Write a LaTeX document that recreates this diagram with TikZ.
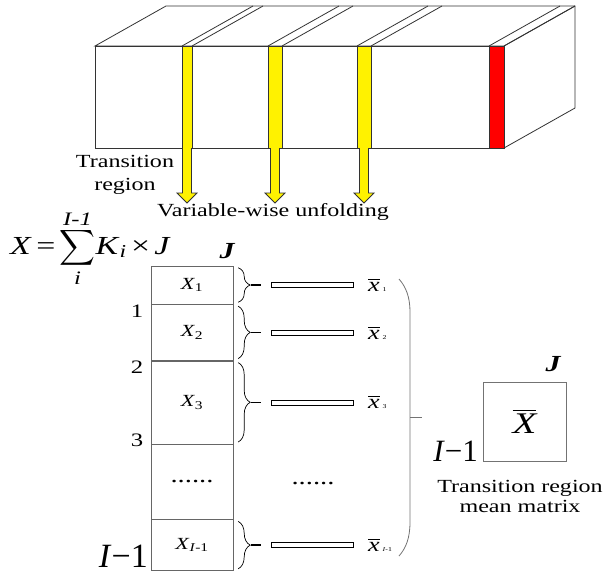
\documentclass[tikz,border=0pt]{standalone}
\usepackage{amsmath}
\usepackage{fontspec}
\setmainfont[FakeStretch=1.3]{Liberation Serif}
\newfontfamily\plainserif{Liberation Serif}
\usetikzlibrary{positioning,decorations.pathreplacing}

\tikzset{
  slab/.style={draw=black!80, line width=0.8pt},
  lbl/.style={font=\fontsize{18.5}{23}\selectfont, align=center, inner sep=0pt},
  cell/.style={draw=black!60, minimum width=82pt, inner sep=0pt, font=\fontsize{17}{18}\selectfont},
  meanbar/.style={draw, fill=white, minimum width=82pt, minimum height=5pt, inner sep=0pt, line width=0.6pt},
  brc/.style={decorate, decoration={brace, amplitude=12pt}, line width=0.7pt},
  stub/.style={line width=1.6pt, shorten >=10pt},
  xlbl/.style={font=\fontsize{20}{20}\selectfont, inner sep=0pt, anchor=west},
  jlbl/.style={font=\fontsize{23}{23}\selectfont\bfseries\itshape, inner sep=0pt},
  dots/.style={font=\fontsize{22}{22}\selectfont, inner sep=0pt},
  rowno/.style={font=\fontsize{19}{19}\selectfont, inner sep=0pt},
  curl/.style={draw=black!55, line width=0.8pt},
  dimlbl/.style={anchor=base east, inner sep=0pt},
}
\newcommand{\limtxt}[2]{\raisebox{#1}{\fontsize{19}{19}\selectfont\itshape #2}}

\begin{document}
\begin{tikzpicture}[x=1pt, y=-1pt]
\useasboundingbox (0,0) rectangle (607,574);
\draw[slab, fill=white] (95,46) -- (166,6) -- (575,6) -- (575,108) -- (504,148) -- (504,46) -- cycle;
\draw[slab, fill=white] (95,46) rectangle (504,148);
\draw[slab] (504,46) -- (575,6);
\foreach \xa/\xb/\col in {182/192/yellow, 268/282/yellow, 357/371/yellow, 489/504/red} {
  \draw[slab] (\xa,46) -- ++(71,-40) (\xb,46) -- ++(71,-40);
  \draw[slab, fill=\col] (\xa,46) rectangle (\xb,148);
}
\foreach \c in {187,275,364} {
  \draw[slab, fill=yellow] ({\c-4.5},148) -- ({\c-4.5},193) -- ({\c-10},193) -- (\c,203)
    -- ({\c+10},193) -- ({\c+4.5},193) -- ({\c+4.5},148);
}
\node[lbl] (trans) at (125,175) {Transition\\region};
\node[lbl] (unfold) at (273,212) {Variable-wise unfolding};
\node[font=\fontsize{26}{28}\selectfont, inner sep=0pt, anchor=base west] (sumX) at (10,254)
  {\textit{X}\,=\,$\displaystyle\sum_{\limtxt{3pt}{i}}^{\limtxt{-6pt}{I-1}}$\textit{K}\textsubscript{\textit{i}}\,×\,\textit{J}};
\node[jlbl] (jtop) at (227,251) {J};

\node[cell, minimum height=38pt] (c1) at (192,285) {\textit{X}\textsubscript{1}};
\node[cell, minimum height=56pt, below=0pt of c1] (c2) {\textit{X}\textsubscript{2}};
\node[cell, minimum height=83pt, below=0pt of c2] (c3) {\textit{X}\textsubscript{3}};
\node[cell, minimum height=75pt, below=0pt of c3] (c4) {};
\node[cell, minimum height=51pt, below=0pt of c4] (c5) {\textit{X}\textsubscript{\textit{I}-1}};
\node[dots] (dotsl) at (c4) {......};
\node[rowno] (r1) at (137,311) {1};
\node[rowno] (r2) at (137,367) {2};
\node[rowno] (r3) at (137,440) {3};
\node[dimlbl, font=\plainserif\fontsize{34}{34}\selectfont] (rlast) at (148,567) {\textit{I}−1};

\foreach \i/\sub in {1/1,2/2,3/3,5/\textit{I}-1} {
  \draw[brc] ([shift={(5,2)}]c\i.north east) -- ([shift={(5,-2)}]c\i.south east);
  \coordinate (tip\i) at ([xshift=18pt]c\i.east);
  \node[meanbar, right=20pt of tip\i] (bar\i) {};
  \draw[stub] (tip\i) -- (bar\i.west);
  \node[xlbl, right=14pt of bar\i] (xb\i) {$\overline{\textit{x}}$\hspace{3pt}{\fontsize{6}{6}\selectfont\sub}};
}
\node[dots] (dotsr) at (313,483) {......};

\draw[curl] (399,279) .. controls (406,287) and (410,297) .. (410,312) -- (410,522)
  .. controls (410,538) and (406,548) .. (399,556);
\coordinate (bigtip) at (410,417);
\coordinate (bigend) at (422,417);
\draw[curl] (bigtip) -- (bigend);

\node[draw=black!55, minimum width=83pt, minimum height=79pt, inner sep=0pt,
  font=\fontsize{30}{30}\selectfont] (xmean) at (524.5,421.5) {$\overline{\textit{X}}$};
\node[jlbl] (jmean) at (553,364) {J};
\node[dimlbl, font=\plainserif\fontsize{31}{31}\selectfont] (rmean) at (478,461) {\textit{I}−1};
\node[lbl, font=\fontsize{18.5}{20}\selectfont] (cap) at (520,496) {Transition region\\mean matrix};
\end{tikzpicture}
\end{document}
